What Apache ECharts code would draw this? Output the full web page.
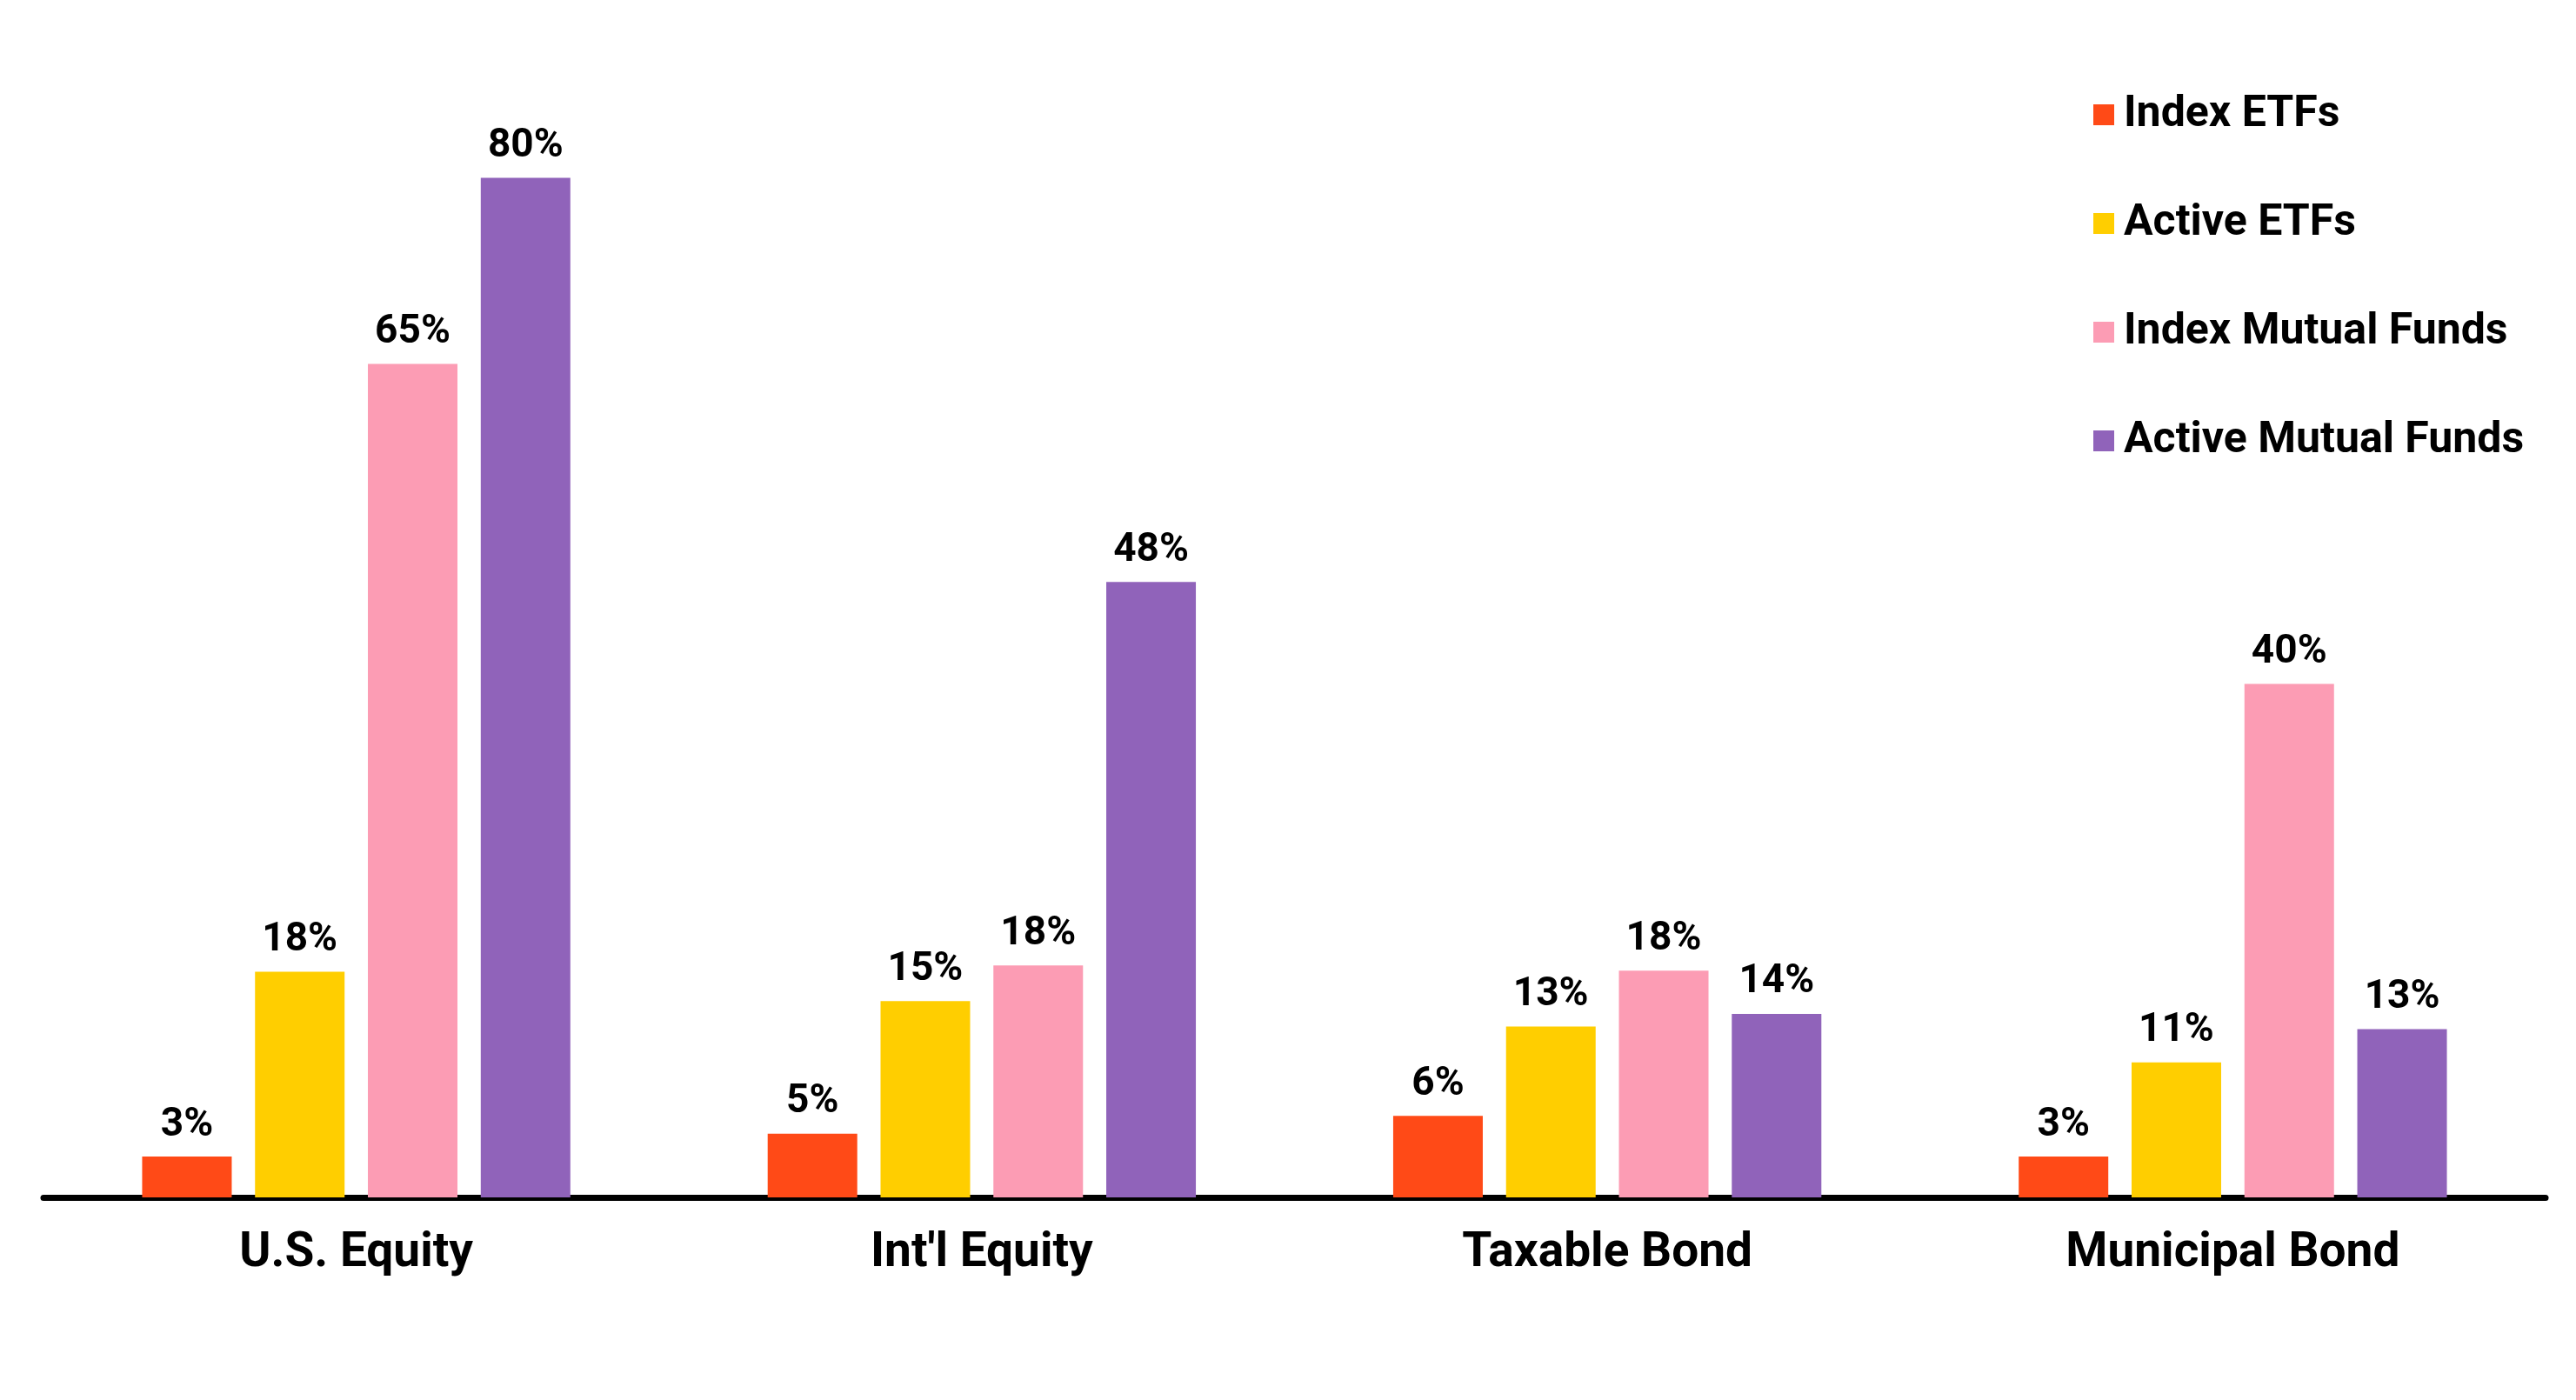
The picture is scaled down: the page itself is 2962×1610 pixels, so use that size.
<!DOCTYPE html>
<html>
<head>
<meta charset="utf-8">
<script src="https://cdn.jsdelivr.net/npm/echarts@6.0.0/dist/echarts.min.js"></script>
<style>
  html, body { margin: 0; padding: 0; background: #fff; }
  #chart { width: 2962px; height: 1610px; }
</style>
</head>
<body>
<div id="chart"></div>
<script>
// share of assets, in % (labels show them rounded)
const categories = ['U.S. Equity', "Int'l Equity", 'Taxable Bond', 'Municipal Bond'];
const seriesNames = ['Index ETFs', 'Active ETFs', 'Index Mutual Funds', 'Active Mutual Funds'];
const indexEtfs = [3.2, 5.0, 6.4, 3.2];
const activeEtfs = [17.7, 15.4, 13.4, 10.6];
const indexMutualFunds = [65.4, 18.2, 17.8, 40.3];
const activeMutualFunds = [80, 48.3, 14.4, 13.2];
const colors = ['#FF4A17', '#FFCE00', '#FC9CB4', '#9063BA'];

const FONT = 'Roboto, "Liberation Sans", sans-serif';
const values = [indexEtfs, activeEtfs, indexMutualFunds, activeMutualFunds];

const chart = echarts.init(document.getElementById('chart'));

const option = {
  backgroundColor: '#fff',
  animation: false,
  color: colors,
  grid: { left: 50, right: 35, top: 58, bottom: 233 },
  legend: {
    orient: 'vertical',
    left: 2402,
    top: 102,
    icon: 'rect',
    itemWidth: 24,
    itemHeight: 24,
    itemGap: 75,
    data: seriesNames,
    textStyle: {
      fontFamily: FONT,
      fontWeight: 'bold',
      fontSize: 50,
      lineHeight: 50,
      color: '#000',
      padding: [0, 0, 0, 6]
    }
  },
  xAxis: {
    type: 'category',
    data: categories,
    axisLine: { show: true, lineStyle: { color: '#000', width: 7 } },
    axisTick: { show: false },
    axisLabel: {
      margin: 38,
      fontFamily: FONT,
      fontWeight: 'bold',
      fontSize: 55,
      color: '#000'
    }
  },
  yAxis: {
    type: 'value',
    min: 0,
    max: 90,
    show: false,
    splitLine: { show: false }
  },
  series: seriesNames.map((name, i) => ({
    name: name,
    type: 'bar',
    data: values[i],
    barWidth: 103,
    barGap: '26%',
    itemStyle: { color: colors[i] },
    label: {
      show: true,
      position: 'top',
      distance: 13,
      formatter: p => Math.round(p.value) + '%',
      fontFamily: FONT,
      fontWeight: 'bold',
      fontSize: 46,
      color: '#000'
    }
  }))
};

chart.setOption(option);
</script>
</body>
</html>
